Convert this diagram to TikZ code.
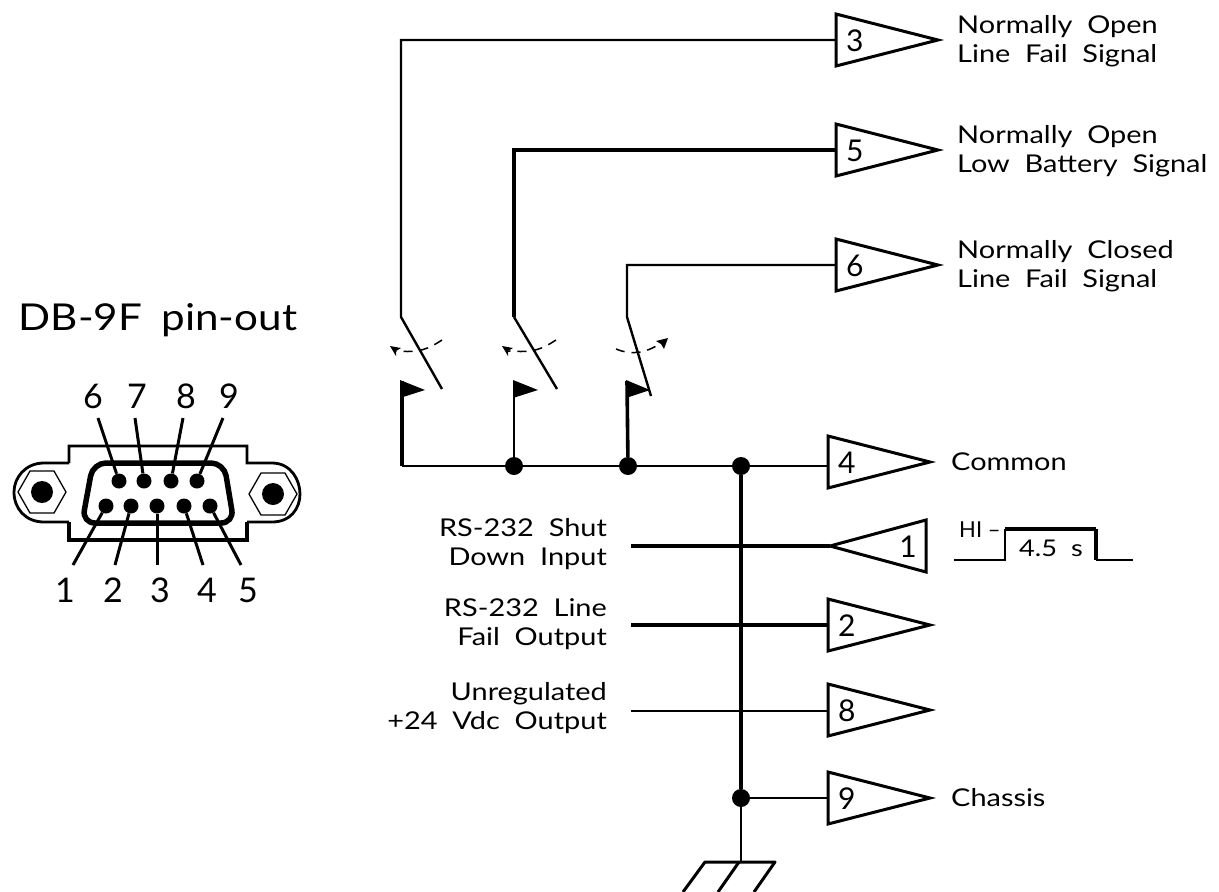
\documentclass[tikz,border=0pt]{standalone}
\usepackage{fontspec}
\setmainfont{Lato}
\newfontfamily\widefont[WordSpace=2.0,FakeStretch=1.18]{Lato}
\newfontfamily\titlefont[WordSpace=1.8,FakeStretch=1.14]{Lato}
\usetikzlibrary{arrows.meta}
\tikzset{
  lbl/.style={inner sep=0pt,align=left,font=\widefont\fontsize{24.5}{28.5}\selectfont},
  lblr/.style={inner sep=0pt,align=right,font=\widefont\fontsize{24.5}{29}\selectfont},
  pinnum/.style={inner sep=0pt,font=\fontsize{30}{30}\selectfont},
  connum/.style={inner sep=0pt,anchor=base,font=\fontsize{34}{34}\selectfont},
  wthin/.style={line width=2.4pt},
  wthick/.style={line width=3.2pt},
  dotn/.style={circle,fill=black,inner sep=0pt,minimum size=18pt},
  buf/.style={line width=3pt,line join=miter,miter limit=10},
  flagshape/.style={fill=black,draw=none},
  dashsw/.style={line width=1.5pt,dash pattern=on 9pt off 7pt},
  tipa/.style={fill=black,draw=none},
  pinhole/.style={circle,fill=black,inner sep=0pt,minimum size=15pt},
  leader/.style={line width=3pt}
}
% #1 name, #2 x of the flat side, #3 y, #4 digit
\newcommand{\bufright}[4]{%
  \draw[buf] (#2,#3-26) -- (#2,#3+26) -- (#2+102,#3) -- cycle;
  \coordinate (#1) at (#2,#3);
  \node[pinnum,anchor=west] (#1n) at (#2+10,#3+1) {#4};
}
\begin{document}
\begin{tikzpicture}[x=1pt,y=-1pt]
\useasboundingbox (0,0) rectangle (1219,892);
% buffers
\bufright{p3}{836}{40}{3}
\bufright{p5}{836}{150}{5}
\bufright{p6}{836}{265}{6}
\bufright{p4}{828}{462}{4}
\bufright{p2}{828}{625}{2}
\bufright{p8}{828}{710}{8}
\bufright{p9}{828}{798}{9}
\draw[buf] (926,520) -- (926,572) -- (830,546) -- cycle;
\coordinate (p1) at (830,546);
\node[pinnum,anchor=east] (p1n) at (917,547) {1};
% switch geometry
\coordinate (s1t) at (401,317); \coordinate (s1b) at (442,389);
\coordinate (s2t) at (514,317); \coordinate (s2b) at (557,389);
\coordinate (s3t) at (627,317); \coordinate (s3b) at (651,396);
\coordinate (f1) at (401.5,381); \coordinate (f2) at (514,381); \coordinate (f3) at (627,381);
\coordinate (b0) at (401.5,466);
\node[dotn] (d1) at (514,466) {};
\node[dotn] (d2) at (628,466) {};
\node[dotn] (d3) at (741,466) {};
\node[dotn] (d4) at (741,798) {};
% top wires
\draw[wthin,line join=miter] (p3) -| (s1t) -- (s1b);
\draw[wthick,line join=miter] (p5) -| (s2t);
\draw[wthin] (s2t) -- (s2b);
\draw[wthin,line join=miter] (p6) -| (s3t) -- (s3b);
% flags and posts
\draw[line width=4pt] (f1) -- (b0);
\draw[line width=2.6pt] (f2) -- (d1);
\draw[line width=3.6pt] (f3) -- (d2);
\fill[flagshape] (400,380) -- (425,390) -- (400,398) -- cycle;
\fill[flagshape] (513,380) -- (538,390) -- (513,398) -- cycle;
\fill[flagshape] (626,380) -- (650,390) -- (626,398) -- cycle;
% bus
\draw[wthin,line cap=square] (b0) -- (d1) -- (d2) -- (d3) -- (p4|-d3);
\draw[line width=4pt] (d3) -- (d4);
% ground
\coordinate (g0) at (741,862);
\coordinate (gl) at (705,862); \coordinate (gm) at (739,862); \coordinate (gr) at (775,862);
\coordinate (hl) at (683,892); \coordinate (hm) at (718,892); \coordinate (hr) at (754,892);
\draw[line width=2.6pt] (d4) -- (g0);
\draw[line width=3pt,line join=round] (hl) -- (gl) -- (gr) -- (hr);
\draw[line width=3pt] (gm) -- (hm);
\draw[wthin] (d4) -- (p9);
% side inputs
\coordinate (i1) at (631,546); \coordinate (i2) at (631,625); \coordinate (i8) at (631,711);
\draw[wthick] (i1) -- (p1);
\draw[wthick] (i2) -- (p2);
\draw[wthin] (i8) -- (p8|-i8);
% switch arcs
\draw[dashsw] (442,340) .. controls (428,349) and (420,353) .. (396,351);
\fill[tipa] (390,346) -- (401,348) -- (396,351) -- (396,356) -- cycle;
\draw[dashsw] (556,340) .. controls (542,349) and (534,353) .. (508,351);
\fill[tipa] (502,346) -- (513,348) -- (508,351) -- (508,356) -- cycle;
\draw[dashsw] (616,349) .. controls (630,355) and (645,354) .. (661,343);
\fill[tipa] (668,338) -- (664,349) -- (661,344) -- (656,341) -- cycle;
% right labels
\node[lbl,anchor=west] (t3) at (957,41) {Normally Open\\Line Fail Signal};
\node[lbl,anchor=west] (t5) at (957,151) {Normally Open\\Low Battery Signal};
\node[lbl,anchor=west] (t6) at (957,266) {Normally Closed\\Line Fail Signal};
\node[lbl,anchor=west] (t4) at (951,462) {Common};
\node[lbl,anchor=west] (t9) at (951,798) {Chassis};
% left labels
\node[lblr,anchor=east] (l1) at (607,544) {RS-232 Shut\\Down Input};
\node[lblr,anchor=east] (l2) at (607,624) {RS-232 Line\\Fail Output};
\node[lblr,anchor=east] (l8) at (607,708) {Unregulated\\+24 Vdc Output};
% waveform
\coordinate (w0) at (954,560); \coordinate (w1) at (1005,560); \coordinate (w2) at (1005,529);
\coordinate (w3) at (1096,529); \coordinate (w4) at (1096,560); \coordinate (w5) at (1133,560);
\draw[line width=2.4pt,line join=miter] (w0) -- (w1) -- (w2);
\draw[line width=3.6pt,line cap=square] (w2) -- (w3);
\draw[line width=3.6pt] (w3) -- (w4);
\draw[line width=2.4pt] (w4) -- (w5);
\node[inner sep=0pt,anchor=base west,font=\fontsize{22}{22}\selectfont] (hi) at (959,537) {HI --};
\node[inner sep=0pt,anchor=base,font=\widefont\fontsize{23}{23}\selectfont] (dur) at (1051,556) {4.5 s};
% connector
\node[inner sep=0pt,anchor=base,font=\titlefont\fontsize{37}{37}\selectfont] (title) at (158,330) {DB-9F pin-out};
\draw[line width=2.8pt] (69,463) -- (69,446) -- (247,446) -- (247,463) -- (272,463)
  .. controls (291,463) and (300,480) .. (300,494)
  .. controls (300,508) and (291,522) .. (272,522) -- (247,522);
\draw[line width=3.2pt] (247,522) -- (247,540) -- (69,540) -- (69,522);
\draw[line width=2.8pt] (69,463) -- (44,463)
  .. controls (25,463) and (14,478) .. (14,492)
  .. controls (14,508) and (25,522) .. (44,522) -- (69,522);
\draw[line width=5.5pt,rounded corners=13pt] (93,463) -- (224,463) -- (234,523) -- (82,523) -- cycle;
\foreach \hx/\hy/\hn in {42/492/hol,273/494/hor}{
  \draw[line width=1.3pt] (\hx+24,\hy) -- (\hx+12,\hy-21) -- (\hx-12,\hy-21) -- (\hx-24,\hy) -- (\hx-12,\hy+21) -- (\hx+12,\hy+21) -- cycle;
  \node[circle,fill=black,inner sep=0pt,minimum size=22pt] (\hn) at (\hx,\hy) {};
}
\foreach \n/\x/\tx/\lx in {6/119/98/93,7/144/135/137,8/171/183/186,9/197/223/229}{
  \node[pinhole] (ph\n) at (\x,481) {};
  \coordinate (lt\n) at (\tx,418);
  \draw[leader] (lt\n) -- (ph\n);
  \node[connum] (n\n) at (\lx,408) {\n};
}
\foreach \n/\x/\tx/\lx in {1/106/73/65,2/131/115/113,3/157/157/160,4/184/203/207,5/210/241/248}{
  \node[pinhole] (ph\n) at (\x,506) {};
  \coordinate (lt\n) at (\tx,565);
  \draw[leader] (lt\n) -- (ph\n);
  \node[connum] (n\n) at (\lx,602) {\n};
}
\end{tikzpicture}
\end{document}
